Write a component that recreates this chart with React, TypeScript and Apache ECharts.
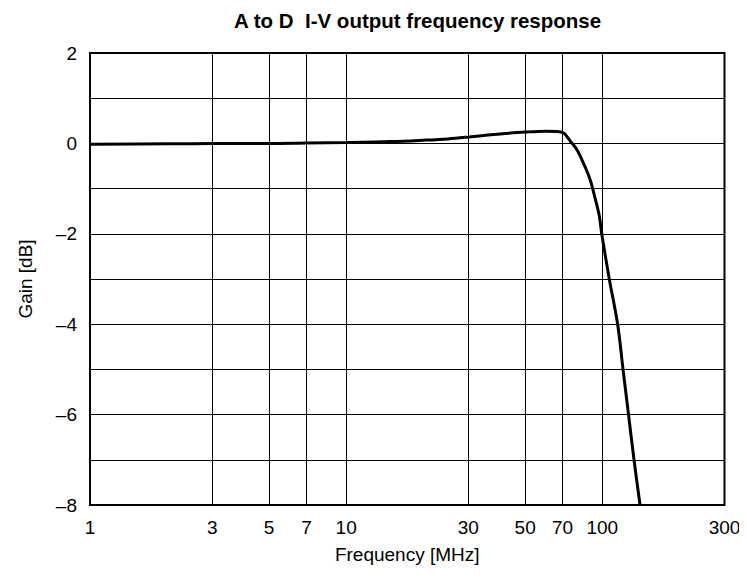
import React, { useEffect, useRef } from "react";
import * as echarts from "echarts";

const titleText = "A to D  I-V output frequency response";
const xName = "Frequency [MHz]";
const yName = "Gain [dB]";

const xTicks = [1, 3, 5, 7, 10, 30, 50, 70, 100, 300];
const yMin = -8;
const yMax = 2;

const freqMHz = [
  1, 2, 3, 5, 7, 10, 15, 20, 25, 30, 35, 40, 50, 60, 68, 71, 75, 79.4, 84.3,
  89.6, 93.6, 97.3, 99.5, 106.5, 114.8, 120.5, 126.6, 133, 140.4,
];
const gainDb = [
  -0.02, -0.01, 0.0, 0.0, 0.01, 0.02, 0.04, 0.07, 0.1, 0.14, 0.18, 0.21, 0.25,
  0.27, 0.26, 0.22, 0.05, -0.13, -0.43, -0.8, -1.2, -1.6, -2.0, -3, -4, -5, -6,
  -7, -8,
];

const FONT = "'Liberation Sans', Arial, sans-serif";

export default function App() {
  const ref = useRef<HTMLDivElement>(null);
  useEffect(() => {
    if (!ref.current) return;
    const chart = echarts.init(ref.current, undefined, { renderer: "svg" });
    const lg = (v: number) => Math.log10(v);
    const data = freqMHz.map((f, i) => [lg(f), gainDb[i]]);
    chart.setOption({
      animation: false,
      backgroundColor: "#ffffff",
      title: {
        text: titleText,
        left: 229,
        top: 5,
        textStyle: {
          fontFamily: FONT,
          fontSize: 20.5,
          fontWeight: "bold",
          color: "#000",
        },
      },
      grid: {
        left: 90,
        right: 22.5,
        top: 53,
        bottom: 78,
        show: true,
        borderColor: "#000",
        borderWidth: 2,
        backgroundColor: "transparent",
      },
      xAxis: {
        type: "value",
        min: 0,
        max: lg(300),
        name: xName,
        nameLocation: "middle",
        nameGap: 40,
        nameTextStyle: { fontFamily: FONT, fontSize: 19, color: "#000" },
        axisLine: { show: false },
        axisTick: { show: false, customValues: xTicks.map(lg) },
        axisLabel: {
          customValues: xTicks.map(lg),
          formatter: (v: number) => String(Math.round(Math.pow(10, v))),
          fontFamily: FONT,
          fontSize: 19,
          color: "#000",
          margin: 13,
        },
        splitLine: { show: true, lineStyle: { color: "#000", width: 1 } },
      },
      yAxis: {
        type: "value",
        min: yMin,
        max: yMax,
        interval: 1,
        name: yName,
        nameLocation: "middle",
        nameGap: 55,
        nameTextStyle: { fontFamily: FONT, fontSize: 19, color: "#000" },
        axisLine: { show: false },
        axisTick: { show: false },
        axisLabel: {
          fontFamily: FONT,
          fontSize: 19,
          color: "#000",
          margin: 13,
          formatter: (v: number) =>
            Math.round(v) % 2 === 0
              ? v < 0
                ? "\u2013" + String(Math.abs(v))
                : String(v)
              : "",
        },
        splitLine: { show: true, lineStyle: { color: "#000", width: 1 } },
      },
      series: [
        {
          type: "line",
          data,
          showSymbol: false,
          smooth: 0.35,
          lineStyle: { color: "#000", width: 3 },
          clip: true,
        },
      ],
    });
    return () => chart.dispose();
  }, []);
  return <div ref={ref} style={{ width: 747, height: 583, margin: -8 }} />;
}
